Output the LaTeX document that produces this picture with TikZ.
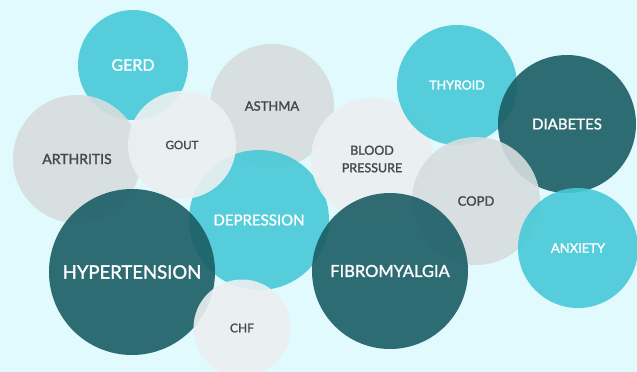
\documentclass[tikz,border=0pt]{standalone}
\usepackage{fontspec}
\setmainfont{Lato}[FakeBold=1.6]
\usepackage{xcolor}
\usepackage{tikz}
\usetikzlibrary{positioning}

\definecolor{bgcyan}{HTML}{E0FAFD}
\definecolor{bubteal}{HTML}{46C9D7}
\definecolor{bubdark}{HTML}{1B5D64}
\definecolor{bubgray}{HTML}{D7DDDE}
\definecolor{bubpale}{HTML}{ECF0F1}
\definecolor{txtgray}{HTML}{45494A}

\newcommand{\bsize}[1]{\fontsize{#1}{#1}\selectfont}

\tikzset{
  bubble/.style={circle, inner sep=0pt, fill opacity=0.9, text opacity=1, align=center},
  tealbub/.style={bubble, fill=bubteal, text=white},
  darkbub/.style={bubble, fill=bubdark, text=white},
  graybub/.style={bubble, fill=bubgray, text=txtgray},
  palebub/.style={bubble, fill=bubpale, text=txtgray}
}

\begin{document}
\begin{tikzpicture}[x=1pt,y=-1pt]
    \fill[bgcyan] (0,0) rectangle (637,372);
    \useasboundingbox (0,0) rectangle (637,372);

    % left group
    \node[tealbub,minimum size=110,font=\bsize{16}] (gerd) at (133,65) {GERD};
    \node[graybub,minimum size=128,font=\bsize{14}] (arthritis) at (77,159) {ARTHRITIS};
    \node[graybub,minimum size=124,font=\bsize{13}] (asthma) at (272,106) {ASTHMA};
    \node[tealbub,minimum size=140,font=\bsize{15}] (depression) at (259,220) {DEPRESSION};
    \node[palebub,minimum size=108,font=\bsize{11.5}] (gout) at (182,145) {GOUT};
    \node[darkbub,minimum size=166,font=\bsize{18.5}] (hypertension) at (132,272) {HYPERTENSION};
    \node[palebub,minimum size=97,font=\bsize{12}] (chf) at (242,328) {CHF};

    % right group
    \node[palebub,minimum size=122,font=\bsize{12.5}] (bp) at (372,159) {BLOOD\\[5pt]PRESSURE};
    \node[tealbub,minimum size=120,font=\bsize{12.5}] (thyroid) at (457,85) {THYROID};
    \node[darkbub,minimum size=138,font=\bsize{15}] (diabetes) at (567,124) {DIABETES};
    \node[graybub,minimum size=128,font=\bsize{13}] (copd) at (476,201) {COPD};
    \node[darkbub,minimum size=156,font=\bsize{16.5}] (fibro) at (390,271) {FIBROMYALGIA};
    \node[tealbub,minimum size=120,font=\bsize{13}] (anxiety) at (578,248) {ANXIETY};
\end{tikzpicture}
\end{document}
